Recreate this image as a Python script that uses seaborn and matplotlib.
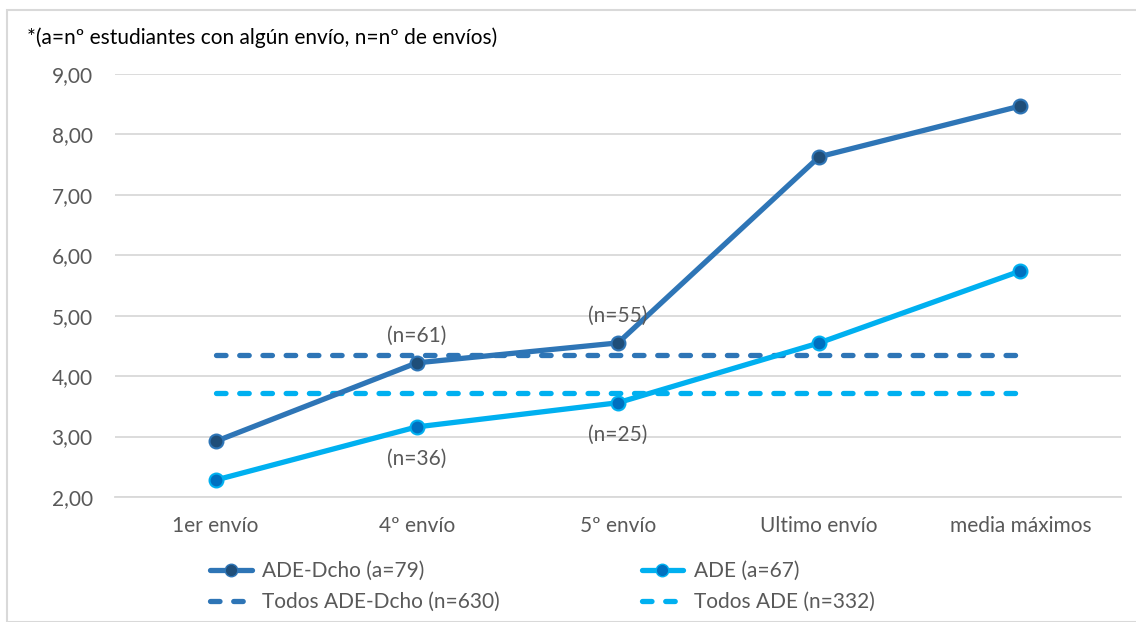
import numpy as np
import pandas as pd
import matplotlib.pyplot as plt
from matplotlib.lines import Line2D
from matplotlib.patches import Rectangle
import seaborn as sns

sns.set_theme(style="white")
plt.rcParams['font.family'] = ['Lato', 'DejaVu Sans']

# ----- data -----
categories = ["1er envío", "4º envío", "5º envío", "Ultimo envío", "media máximos"]
ade_dcho = [2.92, 4.22, 4.55, 7.63, 8.47]
ade = [2.28, 3.16, 3.56, 4.55, 5.74]
todos_ade_dcho = [4.35] * len(categories)
todos_ade = [3.72] * len(categories)

labels = ["ADE-Dcho (a=79)", "ADE (a=67)", "Todos ADE-Dcho (n=630)", "Todos ADE (n=332)"]
n_dcho = {1: "(n=61)", 2: "(n=55)"}
n_ade = {1: "(n=36)", 2: "(n=25)"}
note = "*(a=nº estudiantes con algún envío, n=nº de envíos)"

DARK = "#2E75B6"
DARK_MK = "#1F4E79"
LIGHT = "#00B0F0"
LIGHT_MK = "#0070C0"
GRAY = "#595959"
GRID = "#D9D9D9"
FS = 15

df = pd.DataFrame({"cat": categories, "dcho": ade_dcho, "ade": ade,
                   "tdcho": todos_ade_dcho, "tade": todos_ade})
df["x"] = np.arange(len(categories))

fig = plt.figure(figsize=(11.36, 6.22), dpi=100)
ax = fig.add_axes([115 / 1136, 1 - 497 / 622, (1121 - 115) / 1136, (497 - 74) / 622])

lw = 3.8
dash = (0, (1.8, 2.6))
sns.lineplot(data=df, x="x", y="tdcho", ax=ax, color=DARK, lw=lw,
             linestyle=dash, dash_capstyle="round", zorder=2)
sns.lineplot(data=df, x="x", y="tade", ax=ax, color=LIGHT, lw=lw,
             linestyle=dash, dash_capstyle="round", zorder=2)
sns.lineplot(data=df, x="x", y="dcho", ax=ax, color=DARK, lw=lw, marker="o",
             markersize=10, markerfacecolor=DARK_MK, markeredgecolor=DARK,
             markeredgewidth=1.5, zorder=4)
sns.lineplot(data=df, x="x", y="ade", ax=ax, color=LIGHT, lw=lw, marker="o",
             markersize=10, markerfacecolor=LIGHT_MK, markeredgecolor=LIGHT,
             markeredgewidth=1.5, zorder=4)

for i, t in n_dcho.items():
    ax.annotate(t, (i, ade_dcho[i]), xytext=(0, 12), textcoords="offset points",
                ha="center", va="bottom", fontsize=FS, color=GRAY, zorder=5)
for i, t in n_ade.items():
    ax.annotate(t, (i, ade[i]), xytext=(0, -16), textcoords="offset points",
                ha="center", va="top", fontsize=FS, color=GRAY, zorder=5)

ax.set_xlim(-0.5, len(categories) - 0.5)
ax.set_ylim(2, 9)
ax.set_yticks(np.arange(2, 10, 1))
ax.set_yticklabels([f"{v:.2f}".replace(".", ",") for v in np.arange(2, 10, 1)])
ax.set_xticks(df["x"])
ax.set_xticklabels(categories)
ax.tick_params(axis="both", length=0, labelsize=FS, labelcolor=GRAY)
ax.tick_params(axis="y", pad=16)
ax.tick_params(axis="x", pad=14)
ax.set_xlabel("")
ax.set_ylabel("")
ax.yaxis.grid(True, color=GRID, lw=1.3)
ax.set_axisbelow(True)
for s in ["top", "right", "left"]:
    ax.spines[s].set_visible(False)
ax.spines["bottom"].set_color(GRID)
ax.spines["bottom"].set_linewidth(1.3)

h_dcho = Line2D([], [], color=DARK, lw=lw, marker="o", markersize=9,
                markerfacecolor=DARK_MK, markeredgecolor=DARK)
h_ade = Line2D([], [], color=LIGHT, lw=lw, marker="o", markersize=9,
               markerfacecolor=LIGHT_MK, markeredgecolor=LIGHT)
h_tdcho = Line2D([], [], color=DARK, lw=lw, linestyle=dash, dash_capstyle="round")
h_tade = Line2D([], [], color=LIGHT, lw=lw, linestyle=dash, dash_capstyle="round")
# column-major fill: first column = ADE-Dcho rows
fig.legend([h_dcho, h_tdcho, h_ade, h_tade],
           [labels[0], labels[2], labels[1], labels[3]],
           ncol=2, frameon=False, loc="upper left",
           bbox_to_anchor=(210 / 1136, 1 - 561 / 622), fontsize=FS,
           labelcolor=GRAY, handlelength=2.0, handletextpad=0.5,
           columnspacing=6.8, labelspacing=0.54, borderpad=0, borderaxespad=0)

fig.text(27 / 1136, 1 - 38 / 622, note, fontsize=FS, color="#000000",
         ha="left", va="center")

fig.patches.append(Rectangle((7 / 1136, 0), 1.2, 1 - 10 / 622, transform=fig.transFigure,
                             fill=False, edgecolor=GRID, lw=1.5))

fig.savefig("out.png", dpi=100)
